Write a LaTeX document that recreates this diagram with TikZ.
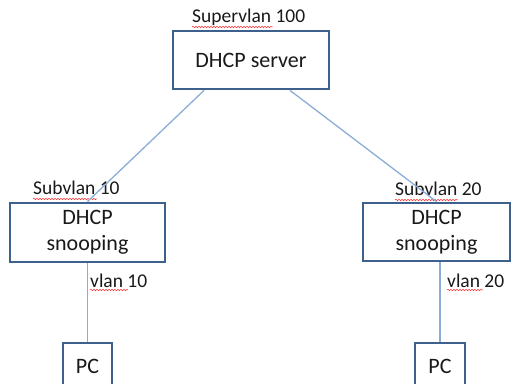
\documentclass[tikz,border=0pt]{standalone}
\usepackage{fontspec}
\setmainfont{Carlito}
\usetikzlibrary{decorations.pathmorphing}

\begin{document}
\begin{tikzpicture}[x=1pt, y=1pt,
	box/.style={draw=boxblue, line width=2.8pt, fill=white, inner sep=0pt, align=center,
		font=\fontsize{22}{26}\selectfont, text=black!90},
	lbl/.style={anchor=base west, inner sep=0pt, font=\fontsize{19.5}{22}\selectfont, text=black!90},
	link/.style={draw=linkblue, line width=1.3pt},
	spell/.style={draw=red!80, line width=.5pt, decorate,
		decoration={snake, amplitude=.8pt, segment length=3pt}}]
	\definecolor{boxblue}{RGB}{62, 96, 140};
	\definecolor{linkblue}{RGB}{140, 172, 216};

	% \spellmark#x1#x2#y
	\def\spellmark#1#2#3{
		\draw[spell] (#1, #3) -- (#2, #3);
	}

	\useasboundingbox (0, 0) rectangle (514, 383);
	\clip (0, 0) rectangle (514, 383);

	% top level
	\node[box, minimum width=156, minimum height=58] (server) at (251, 323) {DHCP server};
	\node[lbl] (superlbl) at (192, 360) {Supervlan 100};
	\spellmark{192}{273}{356}

	% middle level
	\node[box, minimum width=155, minimum height=59] (snoopL) at (87.5, 150.5) {DHCP\\snooping};
	\node[box, minimum width=147, minimum height=58] (snoopR) at (436.5, 151) {DHCP\\snooping};
	\node[lbl] (subL) at (33, 188) {Subvlan 10};
	\node[lbl] (subR) at (395, 187) {Subvlan 20};
	\spellmark{33}{97}{184}
	\spellmark{395}{458}{183}

	% bottom level
	\node[box, minimum width=49, minimum height=46] (pcL) at (87.5, 17) {PC};
	\node[box, minimum width=50, minimum height=46] (pcR) at (440, 17) {PC};
	\node[lbl] (vlanL) at (90, 95) {vlan 10};
	\node[lbl] (vlanR) at (447, 95) {vlan 20};
	\spellmark{90}{128}{93}
	\spellmark{447}{483}{93}

	% connections
	\coordinate (srvL) at ([xshift=-47pt]server.south);
	\coordinate (srvR) at ([xshift=39pt]server.south);
	\draw[link] (srvL) -- (snoopL.north);
	\draw[link] (srvR) -- (snoopR.north);
	\draw[link] (snoopL.south) -- (pcL.north);
	\draw[link] (snoopR.south -| pcR.north) -- (pcR.north);
\end{tikzpicture}
\end{document}
